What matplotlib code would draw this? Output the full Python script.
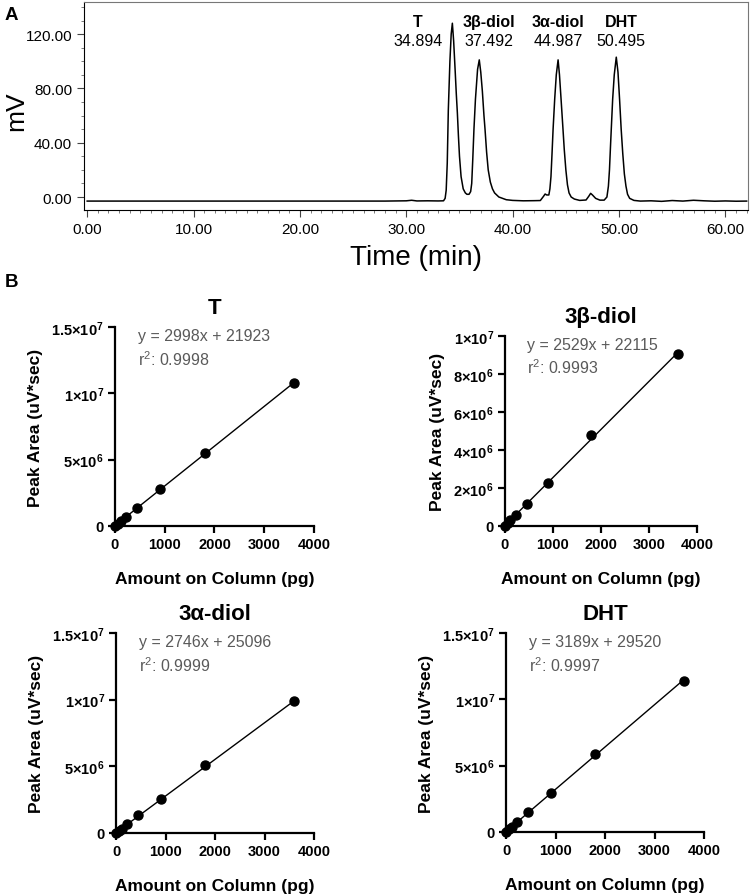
import numpy as np
import matplotlib
matplotlib.use("Agg")
import matplotlib.pyplot as plt
from matplotlib.ticker import MultipleLocator, FormatStrFormatter

plt.rcParams['font.family'] = ['Liberation Sans', 'DejaVu Sans']
plt.rcParams['mathtext.default'] = 'regular'

# ---- Panel A: chromatogram trace ----
trace_t = [0, 5, 10, 15, 20, 25, 28, 30, 30.5, 31, 32, 33, 33.5, 33.65,
           33.75, 33.85, 33.95, 34.1, 34.22, 34.33, 34.45, 34.6, 34.7, 34.8,
           34.9, 35.0, 35.15, 35.35, 35.55, 35.7, 35.9, 36.05,
           36.15, 36.25, 36.36, 36.5, 36.7, 36.86, 37.0, 37.15, 37.3, 37.4,
           37.55, 37.7, 37.9, 38.1, 38.3, 38.7, 39.4, 40, 41, 42, 42.6, 42.9,
           43.05, 43.2, 43.4,
           43.5, 43.6, 43.7, 43.8, 43.95, 44.1, 44.27, 44.4, 44.55, 44.73,
           44.85, 45.0, 45.15, 45.3, 45.5, 45.8, 46.3, 46.9, 47.15, 47.33,
           47.5, 47.8, 48.2, 48.6, 48.86,
           49.0, 49.1, 49.2, 49.27, 49.4, 49.55, 49.74, 49.9, 50.05, 50.2,
           50.35, 50.5, 50.65, 50.8, 51.0, 51.4,
           52, 53, 54, 55, 56, 57, 58, 59, 60, 61, 62]
trace_mv = [-3, -3, -3, -3, -3, -3, -3, -2.8, -2.4, -2.9, -2.8, -2.9, -2.8, -1,
            5, 25, 64, 100, 120, 128, 115, 92, 76, 62,
            45, 30, 15, 6, 3, 2, 2, 4,
            10, 28, 50, 72, 94, 101, 92, 78, 60, 50,
            33, 20, 11, 6, 3, 0, -2, -2.5, -2.8, -2.7, -2.6, 0.5,
            2.2, 1.5, 1.5,
            6, 15, 32, 50, 72, 90, 101, 90, 72, 50,
            35, 20, 9, 3, 0, -1.5, -2.5, -2.2, 0.5, 2.7,
            1.5, -1, -2.3, -2.3, 0,
            8, 20, 38, 50, 72, 90, 103, 92, 72, 50,
            32, 17, 8, 2, -1, -2.5,
            -3, -2.8, -3.2, -2.6, -3, -2.4, -2.8, -3.1, -2.9, -3.1, -3]

peak_names = ['T', '3β-diol', '3α-diol', 'DHT']
peak_rt_labels = ['34.894', '37.492', '44.987', '50.495']
peak_label_x = [31.1, 37.8, 44.3, 50.2]

# ---- Panel B: calibration curves ----
amount_pg = [0, 56.25, 112.5, 225, 450, 900, 1800, 3600]
area_T = [0, 0.18e6, 0.35e6, 0.71e6, 1.36e6, 2.77e6, 5.50e6, 1.076e7]
area_3b = [0, 0.15e6, 0.30e6, 0.58e6, 1.14e6, 2.28e6, 4.79e6, 9.07e6]
area_3a = [0, 0.17e6, 0.33e6, 0.68e6, 1.35e6, 2.52e6, 5.07e6, 9.87e6]
area_DHT = [0, 0.19e6, 0.37e6, 0.74e6, 1.48e6, 2.94e6, 5.90e6, 1.138e7]

slopes = [2998, 2529, 2746, 3189]
intercepts = [21923, 22115, 25096, 29520]
r2_values = ['0.9998', '0.9993', '0.9999', '0.9997']

yticks_15 = [0, 5e6, 1e7, 1.5e7]
yticklabels_15 = ['0', '5×10$^{6}$', '1×10$^{7}$', '1.5×10$^{7}$']
yticks_10 = [0, 2e6, 4e6, 6e6, 8e6, 1e7]
yticklabels_10 = ['0', '2×10$^{6}$', '4×10$^{6}$', '6×10$^{6}$', '8×10$^{6}$', '1×10$^{7}$']
xticks_b = [0, 1000, 2000, 3000, 4000]

fig = plt.figure(figsize=(7.5, 8.95), dpi=100)

# Panel A
axA = fig.add_axes([0.112, 0.7642, 0.885, 0.2324])
axA.plot(trace_t, trace_mv, color='black', lw=1.1)
axA.set_xlim(-0.3, 62.1)
axA.set_ylim(-9.6, 143.6)
axA.xaxis.set_major_locator(MultipleLocator(10))
axA.xaxis.set_minor_locator(MultipleLocator(1))
axA.yaxis.set_major_locator(MultipleLocator(40))
axA.yaxis.set_minor_locator(MultipleLocator(10))
axA.xaxis.set_major_formatter(FormatStrFormatter('%.2f'))
axA.yaxis.set_major_formatter(FormatStrFormatter('%.2f'))
for s in axA.spines.values():
    s.set_color('#777777')
    s.set_linewidth(0.8)
axA.spines['left'].set_color('black')
axA.spines['bottom'].set_color('black')
axA.tick_params(which='major', direction='out', length=5, width=0.8, labelsize=11, color='#444444')
axA.tick_params(which='minor', direction='out', length=2.5, width=0.6, color='#666666')
axA.set_xlabel('Time (min)', fontsize=20, labelpad=6)
fig.text(0.021, 0.876, 'mV', fontsize=19, rotation=90, ha='center', va='center')
for name, rt, lx in zip(peak_names, peak_rt_labels, peak_label_x):
    axA.text(lx, 129, name, ha='center', va='center', fontsize=11.5, fontweight='bold')
    axA.text(lx, 115, rt, ha='center', va='center', fontsize=11.5)
fig.text(0.006, 0.983, 'A', fontsize=13.5, fontweight='bold', va='center')
fig.text(0.006, 0.684, 'B', fontsize=13.5, fontweight='bold', va='center')

# Panel B
panels = [
    ('T', area_T, [0.1533, 0.4112, 0.2653, 0.2223], 1.5e7, yticks_15, yticklabels_15),
    ('3β-diol', area_3b, [0.6733, 0.4112, 0.2560, 0.2123], 1e7, yticks_10, yticklabels_10),
    ('3α-diol', area_3a, [0.1547, 0.0682, 0.2640, 0.2235], 1.5e7, yticks_15, yticklabels_15),
    ('DHT', area_DHT, [0.6747, 0.0693, 0.2640, 0.2223], 1.5e7, yticks_15, yticklabels_15),
]
for i, (title, area, rect, ymax, yt, ytl) in enumerate(panels):
    ax = fig.add_axes(rect)
    xs = np.array([0, amount_pg[-1]])
    ax.plot(xs, slopes[i] * xs + intercepts[i], color='black', lw=1.0)
    ax.plot(amount_pg, area, 'o', color='black', ms=6.5, clip_on=False, zorder=3)
    ax.set_xlim(0, 4000)
    ax.set_ylim(0, ymax)
    ax.set_xticks(xticks_b)
    ax.set_yticks(yt)
    ax.set_yticklabels(ytl)
    for s in ['top', 'right']:
        ax.spines[s].set_visible(False)
    for s in ['left', 'bottom']:
        ax.spines[s].set_linewidth(1.6)
    ax.tick_params(direction='out', length=5, width=1.6, labelsize=10.5, pad=3)
    for lab in ax.get_xticklabels() + ax.get_yticklabels():
        lab.set_fontweight('bold')
    ax.set_xlabel('Amount on Column (pg)', fontsize=12.5, fontweight='bold', labelpad=14)
    ax.set_ylabel('Peak Area (uV*sec)', fontsize=12.5, fontweight='bold', labelpad=6)
    ax.set_title(title, fontsize=16, fontweight='bold', pad=10)
    ax.text(0.115, 0.955, 'y = %dx + %d' % (slopes[i], intercepts[i]),
            transform=ax.transAxes, fontsize=11.5, color='#5a5a5a', va='center')
    ax.text(0.115, 0.84, 'r$^{2}$: ' + r2_values[i], transform=ax.transAxes,
            fontsize=11.5, color='#5a5a5a', va='center')

fig.savefig('out.png', dpi=100)
